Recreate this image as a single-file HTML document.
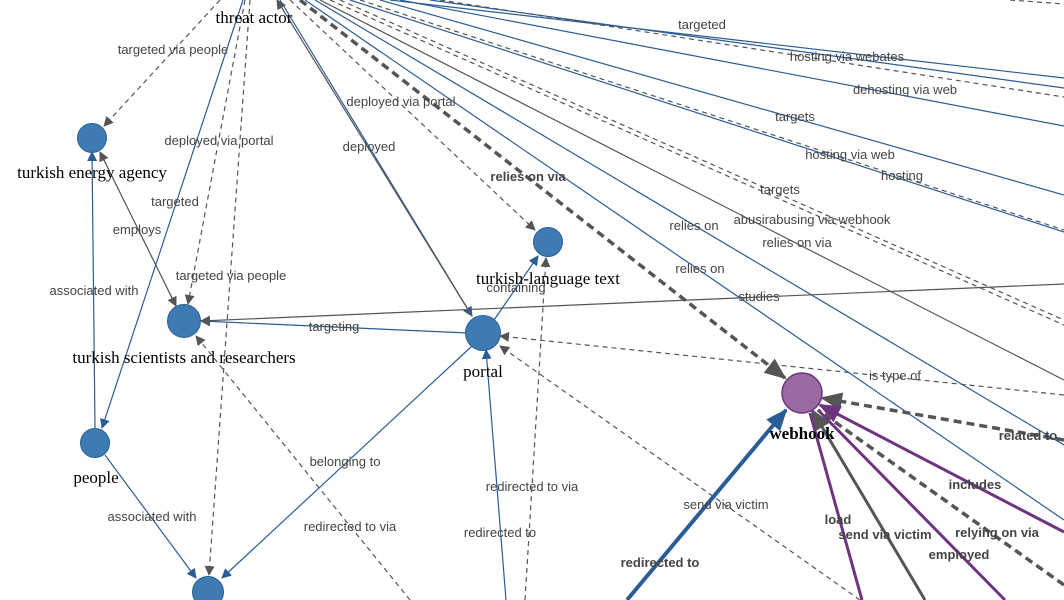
<!DOCTYPE html>
<html><head><style>
body{margin:0;background:#fff;width:1064px;height:600px;overflow:hidden}
svg{display:block}
.l{font-family:"Liberation Sans",sans-serif;font-size:13px;fill:#444;text-anchor:middle}
.b{font-weight:bold}
.n{font-family:"Liberation Serif",serif;font-size:17px;fill:#000;text-anchor:middle}
.bl{stroke:#2a5d96;stroke-width:1.2;fill:none}
.bt{stroke:#2a5d96;stroke-width:4;fill:none}
.dg{stroke:#555;stroke-width:1.2;fill:none;stroke-dasharray:5,4}
.dt{stroke:#555;stroke-width:3.5;fill:none;stroke-dasharray:8,5}
.gs{stroke:#555;stroke-width:1.2;fill:none}
.pu{stroke:#6f3480;stroke-width:3;fill:none}
.node{fill:#3f7bb3;stroke:#2b5f96;stroke-width:1}
</style></head><body>
<svg width="1064" height="600" viewBox="0 0 1064 600">
<defs>
<marker id="ab" markerWidth="10" markerHeight="10" refX="9" refY="5" orient="auto" markerUnits="userSpaceOnUse" viewBox="0 0 10 10"><path d="M0,0L10,5L0,10z" fill="#2a5d96"/></marker>
<marker id="ag" markerWidth="10" markerHeight="10" refX="9" refY="5" orient="auto" markerUnits="userSpaceOnUse" viewBox="0 0 10 10"><path d="M0,0L10,5L0,10z" fill="#555"/></marker>
<marker id="abL" markerWidth="22" markerHeight="18" refX="20" refY="9" orient="auto" markerUnits="userSpaceOnUse" viewBox="0 0 22 18"><path d="M0,0L22,9L0,18z" fill="#2a5d96"/></marker>
<marker id="agL" markerWidth="22" markerHeight="18" refX="20" refY="9" orient="auto" markerUnits="userSpaceOnUse" viewBox="0 0 22 18"><path d="M0,0L22,9L0,18z" fill="#555"/></marker>
<marker id="apL" markerWidth="22" markerHeight="18" refX="20" refY="9" orient="auto" markerUnits="userSpaceOnUse" viewBox="0 0 22 18"><path d="M0,0L22,9L0,18z" fill="#6f3480"/></marker>
</defs>
<!-- fan lines from threat actor -->
<path class="bl" d="M390,0L1064,78"/>
<path class="bl" d="M430,0L1064,88"/>
<path class="dg" d="M440,0L1064,97"/>
<path class="bl" d="M400,0L1064,126"/>
<path class="bl" d="M380,0L1064,195"/>
<path class="dg" d="M360,0L1064,230"/>
<path class="bl" d="M350,0L1064,232"/>
<path class="dg" d="M340,0L1064,320"/>
<path class="dg" d="M330,0L1064,325"/>
<path class="gs" d="M320,0L1064,380"/>
<path class="bl" d="M315,0L1064,445"/>
<path class="bl" d="M305,0L1064,520"/>
<path class="dg" d="M1010,0L1064,4"/>
<path class="dt" d="M300,0L785,378" marker-end="url(#agL)"/>
<path class="dg" d="M290,0L535,230" marker-end="url(#ag)"/>
<path class="bl" d="M280,0L472,316" marker-end="url(#ab)"/>
<path class="gs" d="M472,316L277,0" marker-end="url(#ag)"/>
<path class="dg" d="M220,0L104,126" marker-end="url(#ag)"/>
<path class="bl" d="M243,0L102,428" marker-end="url(#ab)"/>
<path class="dg" d="M245,0L188,304" marker-end="url(#ag)"/>
<path class="dg" d="M250,0L209,575" marker-end="url(#ag)"/>
<!-- others -->
<path class="dg" d="M100,152L176,306" marker-end="url(#ag)"/>
<path class="dg" d="M176,306L100,152" marker-end="url(#ag)"/>
<path class="bl" d="M95,428L92,152" marker-end="url(#ab)"/>
<path class="bl" d="M105,455L196,578" marker-end="url(#ab)"/>
<path class="bl" d="M468,333L201,321" marker-end="url(#ab)"/>
<path class="gs" d="M1064,284L201,321" marker-end="url(#ag)"/>
<path class="dg" d="M410,600L196,336" marker-end="url(#ag)"/>
<path class="bl" d="M472,346L222,578" marker-end="url(#ab)"/>
<path class="bl" d="M494,320L538,256" marker-end="url(#ab)"/>
<path class="dg" d="M525,600L546,258" marker-end="url(#ag)"/>
<path class="bl" d="M506,600L486,350" marker-end="url(#ab)"/>
<path class="dg" d="M1064,395L500,336" marker-end="url(#ag)"/>
<path class="dg" d="M860,600L500,346" marker-end="url(#ag)"/>
<path class="bt" d="M627,600L786,410" marker-end="url(#abL)"/>
<path class="dt" d="M1064,440L822,398" marker-end="url(#agL)"/>
<path class="pu" d="M1064,532L820,405" marker-end="url(#apL)"/>
<path class="dt" d="M1064,585L818,410"/>
<path class="pu" d="M1005,600L818,410"/>
<path class="gs" d="M925,600L812,410" style="stroke-width:3" marker-end="url(#agL)"/>
<path class="pu" d="M862,600L810,413"/>
<!-- nodes -->
<circle class="node" cx="92" cy="138" r="14.5"/>
<circle class="node" cx="184" cy="321" r="16.5"/>
<circle class="node" cx="483" cy="333" r="17.5"/>
<circle class="node" cx="548" cy="242" r="14.5"/>
<circle class="node" cx="95" cy="443" r="14.5"/>
<circle class="node" cx="208" cy="592" r="15.5"/>
<circle cx="802" cy="393" r="20" fill="#9a68a3" stroke="#6f3480" stroke-width="1.5"/>
<!-- edge labels -->
<g class="l">
<text x="173" y="54">targeted via people</text>
<text x="219" y="145">deployed via portal</text>
<text x="175" y="206">targeted</text>
<text x="137" y="234">employs</text>
<text x="231" y="280">targeted via people</text>
<text x="94" y="295">associated with</text>
<text x="334" y="331">targeting</text>
<text x="401" y="106">deployed via portal</text>
<text x="369" y="151">deployed</text>
<text x="528" y="181" class="b">relies on via</text>
<text x="516" y="292">containing</text>
<text x="345" y="466">belonging to</text>
<text x="152" y="521">associated with</text>
<text x="350" y="531">redirected to via</text>
<text x="532" y="491">redirected to via</text>
<text x="500" y="537">redirected to</text>
<text x="702" y="29">targeted</text>
<text x="847" y="61">hosting via webates</text>
<text x="905" y="94">dehosting via web</text>
<text x="795" y="121">targets</text>
<text x="850" y="159">hosting via web</text>
<text x="902" y="180">hosting</text>
<text x="780" y="194">targets</text>
<text x="812" y="224">abusirabusing via webhook</text>
<text x="694" y="230">relies on</text>
<text x="797" y="247">relies on via</text>
<text x="700" y="273">relies on</text>
<text x="759" y="301">studies</text>
<text x="895" y="380">is type of</text>
<text x="726" y="509">send via victim</text>
<text x="1028" y="440" class="b">related to</text>
<text x="975" y="489" class="b">includes</text>
<text x="838" y="524" class="b">load</text>
<text x="885" y="539" class="b">send via victim</text>
<text x="997" y="537" class="b">relying on via</text>
<text x="959" y="559" class="b">employed</text>
<text x="660" y="567" class="b">redirected to</text>
</g>
<g class="n">
<text x="254" y="23">threat actor</text>
<text x="92" y="178">turkish energy agency</text>
<text x="184" y="363">turkish scientists and researchers</text>
<text x="548" y="284">turkish-language text</text>
<text x="483" y="377">portal</text>
<text x="96" y="483">people</text>
<text x="802" y="439" style="font-weight:bold">webhook</text>
</g>
</svg>
</body></html>
